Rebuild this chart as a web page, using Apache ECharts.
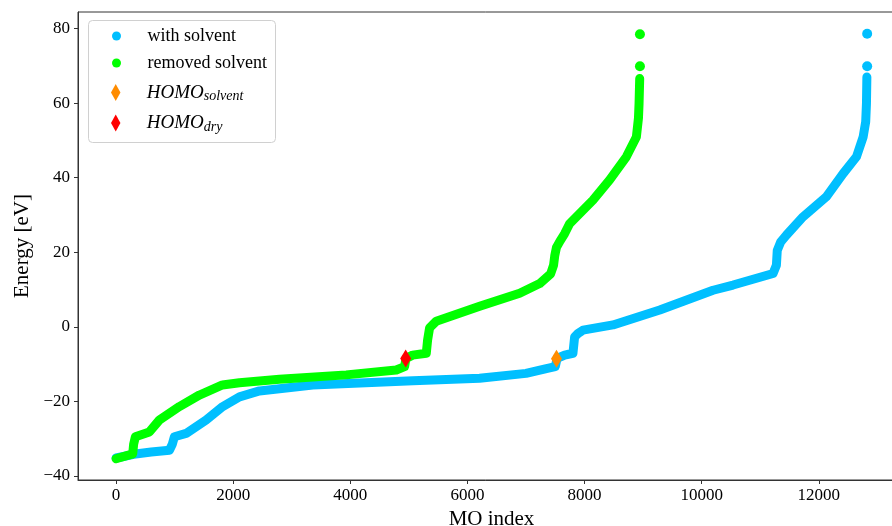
<!DOCTYPE html>
<html>
<head>
<meta charset="utf-8">
<script src="https://cdn.jsdelivr.net/npm/echarts@6/dist/echarts.min.js"></script>
<style>
  html, body { margin: 0; padding: 0; background: #fff; }
  #chart { width: 892px; height: 526px; }
</style>
</head>
<body>
<div id="chart"></div>
<script>
// MO energies: [MO index, energy in eV]
var solventCurve = [
  [0, -35.2], [300, -34.2], [600, -33.6], [911, -33.1], [960, -31.5], [996, -29.5],
  [1196, -28.6], [1538, -25.0], [1821, -21.4], [2107, -18.8], [2448, -17.2],
  [3359, -15.6], [5068, -14.5], [6207, -13.8], [7000, -12.5], [7347, -11.2],
  [7500, -10.7], [7530, -8.5], [7660, -7.6], [7801, -7.1], [7830, -2.7],
  [7887, -1.8], [7972, -0.9], [8485, 0.5], [9283, 4.5], [10193, 9.8],
  [10535, 11.2], [11218, 14.3], [11275, 16.5], [11290, 20.5], [11350, 22.8],
  [11446, 24.6], [11730, 29.5], [12130, 34.9], [12414, 41.1], [12642, 45.6],
  [12756, 50.9], [12800, 55], [12813, 59.9], [12820, 67.0]
];
var dryCurve = [
  [0, -35.4], [284, -34.1], [300, -31.5], [330, -29.5], [569, -28.2], [740, -25.0],
  [1081, -21.4], [1423, -18.3], [1816, -15.6], [2107, -15.0], [2790, -14.1],
  [3930, -12.9], [4784, -11.6], [4926, -10.7], [4950, -8.5], [5063, -7.6],
  [5297, -7.1], [5319, -3.6], [5353, -0.3], [5467, 1.5], [6208, 5.5],
  [6891, 9.0], [7233, 11.6], [7420, 14.2], [7470, 16.5], [7490, 19.0],
  [7520, 21.3], [7580, 23.0], [7660, 25.0], [7746, 27.7], [8143, 34.0],
  [8428, 39.4], [8713, 45.6], [8884, 50.9], [8920, 56.0], [8930, 59.9],
  [8941, 66.6]
];
var solventTop = [[12825, 69.9], [12825, 78.6]];
var dryTop = [[8945, 69.9], [8945, 78.5]];
var homoSolvent = [[7520, -8.6]];
var homoDry = [[4945, -8.5]];

var xTicks = [0, 2000, 4000, 6000, 8000, 10000, 12000];
var yTicks = [-40, -20, 0, 20, 40, 60, 80];

var blue = '#00bfff', green = '#00ff00', orange = '#ff8c00', red = '#ff0000';
var font = 'Liberation Serif';
var diamond = 'path://M5,0L10,9L5,18L0,9Z';

function minus(v) { return String(v).replace('-', '\u2212'); }

var chart = echarts.init(document.getElementById('chart'), null, { renderer: 'canvas' });

chart.setOption({
  animation: false,
  backgroundColor: '#fff',
  grid: {
    left: 78, top: 12, bottom: 46, right: -13,
    show: true, borderColor: '#333', borderWidth: 1,
    outerBoundsMode: 'none'
  },
  graphic: [{
    type: 'rect', left: 88, top: 20, z: 50,
    shape: { width: 187, height: 122, r: 4 },
    style: { fill: 'rgba(255,255,255,0.8)', stroke: '#d0d0d0', lineWidth: 1 }
  }],
  legend: [{
    data: [
      { name: 'with solvent', icon: 'circle' },
      { name: 'removed solvent', icon: 'circle' }
    ],
    orient: 'vertical', left: 112, top: 27, padding: 0,
    itemWidth: 52, itemHeight: 9, itemGap: 9, z: 60,
    selectedMode: false,
    textStyle: { fontFamily: font, fontSize: 18, lineHeight: 18, color: '#000' }
  }, {
    data: [
      { name: 'HOMO_solvent', icon: diamond },
      { name: 'HOMO_dry', icon: diamond }
    ],
    orient: 'vertical', left: 111, top: 83, padding: 0,
    itemWidth: 52, itemHeight: 17, itemGap: 10, z: 60,
    selectedMode: false,
    formatter: function(name) {
      return name === 'HOMO_solvent' ? '{m|HOMO}{s|solvent}' : '{m|HOMO}{s|dry}';
    },
    textStyle: {
      fontFamily: font, color: '#000',
      rich: {
        m: { fontFamily: font, fontStyle: 'italic', fontSize: 19, lineHeight: 22, verticalAlign: 'middle' },
        s: { fontFamily: font, fontStyle: 'italic', fontSize: 14, lineHeight: 13, verticalAlign: 'bottom' }
      }
    }
  }],
  xAxis: {
    type: 'value', min: -650, max: 13471,
    name: 'MO index', nameLocation: 'middle', nameGap: 24,
    nameTextStyle: { fontFamily: font, fontSize: 21, color: '#000' },
    splitLine: { show: false },
    axisLine: { onZero: false, lineStyle: { color: '#333', width: 1 } },
    axisTick: { customValues: xTicks, length: 4, lineStyle: { color: '#333' } },
    axisLabel: { customValues: xTicks, margin: 7, fontFamily: font, fontSize: 17, color: '#000', formatter: minus }
  },
  yAxis: {
    type: 'value', min: -41.1, max: 84.45,
    name: 'Energy [eV]', nameLocation: 'middle', nameGap: 45, nameRotate: 90,
    nameTextStyle: { fontFamily: font, fontSize: 21, color: '#000' },
    splitLine: { show: false },
    axisLine: { onZero: false, lineStyle: { color: '#333', width: 1 } },
    axisTick: { customValues: yTicks, length: 4, lineStyle: { color: '#333' } },
    axisLabel: { customValues: yTicks, margin: 8, fontFamily: font, fontSize: 17, color: '#000', formatter: minus }
  },
  series: [{
    name: 'with solvent', type: 'line', data: solventCurve,
    showSymbol: false, color: blue, z: 2,
    lineStyle: { color: blue, width: 9, cap: 'round', join: 'round' }
  }, {
    name: 'with solvent', type: 'scatter', data: solventTop, z: 2,
    symbol: 'circle', symbolSize: 10, itemStyle: { color: blue, opacity: 1 }
  }, {
    name: 'removed solvent', type: 'line', data: dryCurve,
    showSymbol: false, color: green, z: 3,
    lineStyle: { color: green, width: 9, cap: 'round', join: 'round' }
  }, {
    name: 'removed solvent', type: 'scatter', data: dryTop, z: 3,
    symbol: 'circle', symbolSize: 10, itemStyle: { color: green, opacity: 1 }
  }, {
    name: 'HOMO_solvent', type: 'scatter', data: homoSolvent, z: 4,
    symbol: diamond, symbolSize: [11, 18], itemStyle: { color: orange, opacity: 1 }
  }, {
    name: 'HOMO_dry', type: 'scatter', data: homoDry, z: 5,
    symbol: diamond, symbolSize: [11, 18], itemStyle: { color: red, opacity: 1 }
  }]
});
</script>
</body>
</html>
